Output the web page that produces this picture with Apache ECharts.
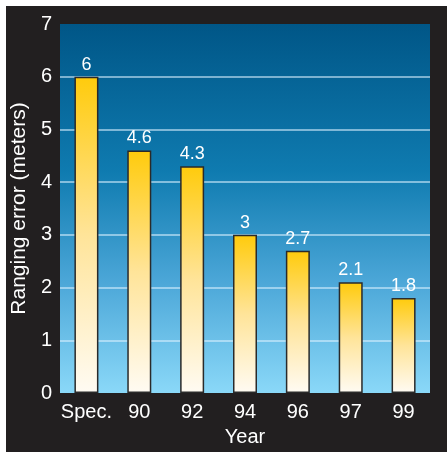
<!DOCTYPE html>
<html>
<head>
<meta charset="UTF-8">
<title>Ranging error</title>
<script src="https://cdn.jsdelivr.net/npm/echarts@6/dist/echarts.min.js"></script>
<style>
  html, body { margin: 0; padding: 0; background: #fff; }
  #chart { width: 447px; height: 452px; }
</style>
</head>
<body>
<div id="chart"></div>
<script>
// data
var years = ['Spec.', '90', '92', '94', '96', '97', '99'];
var errors = [6, 4.6, 4.3, 3, 2.7, 2.1, 1.8];
var yTicks = [0, 1, 2, 3, 4, 5, 6, 7];

var font = 'Liberation Sans, Arial, sans-serif';
var gl = 'rgba(220,240,255,0.75)';

var chart = echarts.init(document.getElementById('chart'));
chart.setOption({
  backgroundColor: '#fff',
  graphic: [{
    type: 'rect', z: -10,
    shape: { x: 6, y: 6, width: 441, height: 446 },
    style: { fill: '#221f20' }
  }],
  grid: {
    left: 60, right: 17, top: 24, bottom: 56,
    show: true, borderWidth: 0,
    backgroundColor: {
      type: 'linear', x: 0, y: 0, x2: 0, y2: 1,
      colorStops: [
        { offset: 0, color: '#005687' },
        { offset: 0.4, color: '#0f7bb0' },
        { offset: 0.7, color: '#4ca7d8' },
        { offset: 1, color: '#8ad8f8' }
      ]
    }
  },
  xAxis: {
    type: 'category', data: years,
    name: 'Year', nameLocation: 'middle', nameGap: 34,
    nameTextStyle: { color: '#fff', fontSize: 20, fontFamily: font },
    axisLine: { show: false }, axisTick: { show: false },
    axisLabel: { color: '#fff', fontSize: 20, fontFamily: font, margin: 9, interval: 0 }
  },
  yAxis: {
    type: 'value', min: yTicks[0], max: yTicks[yTicks.length - 1], interval: 1,
    name: 'Ranging error (meters)', nameLocation: 'middle', nameGap: 27,
    nameTextStyle: { color: '#fff', fontSize: 21, fontFamily: font },
    axisLine: { show: false }, axisTick: { show: false },
    axisLabel: { color: '#fff', fontSize: 20, fontFamily: font, margin: 8 },
    splitLine: {
      lineStyle: { width: 1.5, color: ['transparent', gl, gl, gl, gl, gl, gl, 'transparent'] }
    }
  },
  series: [{
    type: 'bar', data: errors, barWidth: 24,
    itemStyle: {
      borderColor: '#2a2a2a', borderWidth: 1.5,
      color: {
        type: 'linear', x: 0, y: 0, x2: 0, y2: 1,
        colorStops: [
          { offset: 0, color: '#ffcb0c' },
          { offset: 0.5, color: '#ffe499' },
          { offset: 1, color: '#fffbf3' }
        ]
      }
    },
    label: {
      show: true, position: 'top', distance: 3,
      color: '#fff', fontSize: 18, fontFamily: font
    }
  }]
});
</script>
</body>
</html>
